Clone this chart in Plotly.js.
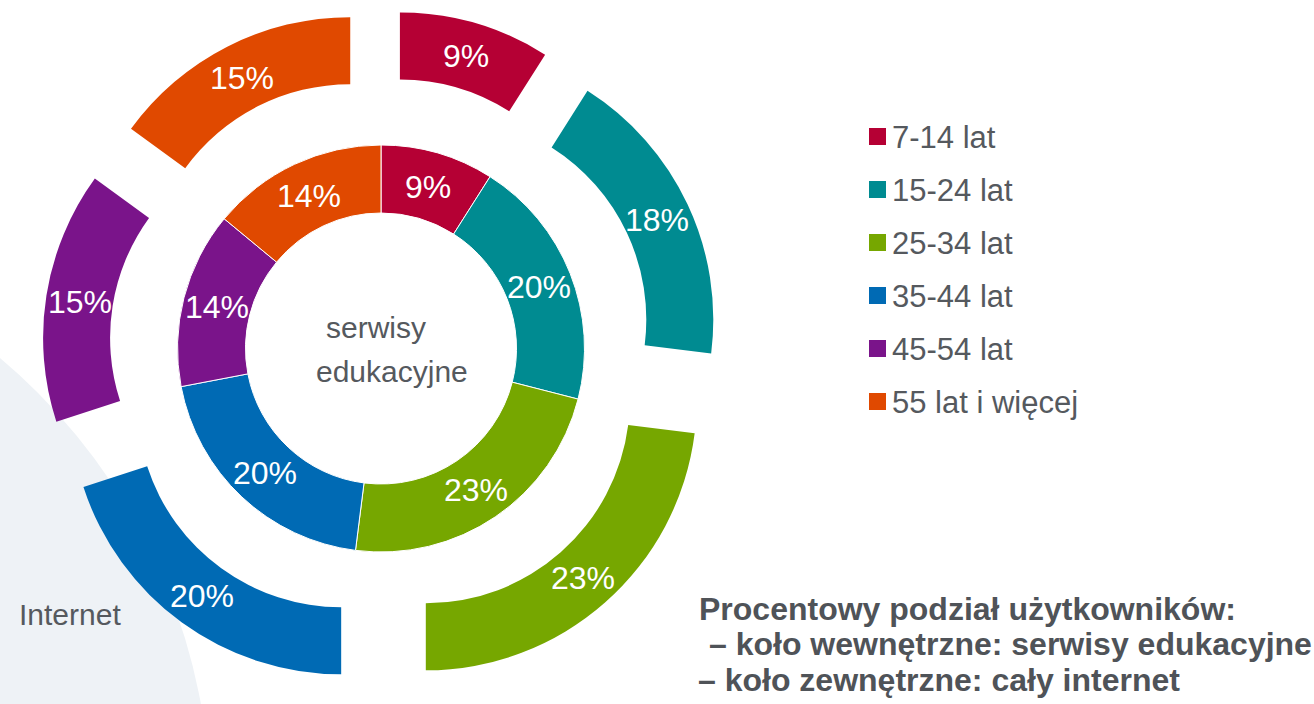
<!DOCTYPE html>
<html>
<head>
<meta charset="utf-8">
<script src="https://cdn.plot.ly/plotly-3.0.1.min.js"></script>
<style>html,body{margin:0;padding:0;background:#fff;}#chart{width:1314px;height:704px;}</style>
</head>
<body>
<div id="chart"></div>
<script>
// ---- data ----
const categories = ['7-14 lat', '15-24 lat', '25-34 lat', '35-44 lat', '45-54 lat', '55 lat i więcej'];
const innerValues = [9, 20, 23, 20, 14, 14];   // serwisy edukacyjne
const outerValues = [9, 18, 23, 20, 15, 15];   // cały internet
const colors = ['#B50034', '#008B91', '#76A700', '#006AB4', '#7A148A', '#E04900'];
const centerLines = ['serwisy', 'edukacyjne'];
const outerLabel = 'Internet';
const noteLines = ['Procentowy podział użytkowników:', '– koło wewnętrzne: serwisy edukacyjne', '– koło zewnętrzne: cały internet'];

// ---- layout helpers ----
const W = 1314, H = 704;
const px = x => x / W;
const py = y => 1 - y / H;
const FONT = 'Liberation Sans, Arial, sans-serif';
const TXT = '#55595E';

// geometry (pixels)
const cx = 381, cy = 348.5;
const rInner = 203.5, holeInner = 135.5 / 203.5;
const rOuter = 271, holeOuter = 204 / 271, pullOuter = 0.25;
const boxOuter = rOuter * (1 + pullOuter);

const outerTrace = {
  type: 'pie',
  labels: categories,
  values: outerValues,
  sort: false,
  direction: 'clockwise',
  rotation: 0,
  hole: holeOuter,
  pull: pullOuter,
  marker: { colors: colors, line: { width: 0 } },
  textinfo: 'none',
  hovertemplate: '%{label}: %{value}%<extra>Internet</extra>',
  showlegend: false,
  domain: { x: [px(cx - boxOuter), px(cx + boxOuter)], y: [py(cy + boxOuter), py(cy - boxOuter)] }
};

const innerTrace = {
  type: 'pie',
  labels: categories,
  values: innerValues,
  sort: false,
  direction: 'clockwise',
  rotation: 0,
  hole: holeInner,
  marker: { colors: colors, line: { color: '#FFFFFF', width: 1 } },
  textinfo: 'none',
  hovertemplate: '%{label}: %{value}%<extra>serwisy edukacyjne</extra>',
  showlegend: false,
  domain: { x: [px(cx - rInner), px(cx + rInner)], y: [py(cy + rInner), py(cy - rInner)] }
};

const shapes = [{
  type: 'circle', xref: 'paper', yref: 'paper', layer: 'below',
  x0: px(-380 - 590.5), x1: px(-380 + 590.5), y0: py(810 + 590.5), y1: py(810 - 590.5),
  fillcolor: '#EEF2F6', line: { width: 0 }
}];
const annotations = [];

// slice percentage labels: placed on each slice's bisector, mid-ring, derived from the values
function sliceLabels(values, r, hole, pull) {
  const total = values.reduce((a, b) => a + b, 0);
  let cum = 0;
  values.forEach(v => {
    const mid = (cum + v / 2) / total * 2 * Math.PI;
    cum += v;
    const sx = cx + pull * r * Math.sin(mid);
    const sy = cy - pull * r * Math.cos(mid);
    const rm = r * (1 + hole) / 2;
    annotations.push({
      xref: 'paper', yref: 'paper',
      x: px(sx + rm * Math.sin(mid)), y: py(sy - rm * Math.cos(mid) + 1),
      xanchor: 'center', yanchor: 'middle', showarrow: false,
      text: v + '%', font: { family: FONT, size: 32, color: '#FFFFFF' }
    });
  });
}
sliceLabels(outerValues, rOuter, holeOuter, pullOuter);
sliceLabels(innerValues, rInner, holeInner, 0);

// manual legend built from categories/colors
categories.forEach((c, i) => {
  const yc = 136.5 + 53 * i;
  shapes.push({
    type: 'rect', xref: 'paper', yref: 'paper',
    x0: px(869), x1: px(886), y0: py(yc + 8.5), y1: py(yc - 8.5),
    fillcolor: colors[i], line: { width: 0 }
  });
  annotations.push({
    xref: 'paper', yref: 'paper', x: px(890), y: py(yc + 1), xanchor: 'left', yanchor: 'middle',
    text: c, showarrow: false, font: { family: FONT, size: 31, color: TXT }
  });
});

// center text
annotations.push({ xref: 'paper', yref: 'paper', x: px(376), y: py(328), xanchor: 'center', yanchor: 'middle',
  text: centerLines[0], showarrow: false, font: { family: FONT, size: 30, color: TXT } });
annotations.push({ xref: 'paper', yref: 'paper', x: px(392), y: py(371), xanchor: 'center', yanchor: 'middle',
  text: centerLines[1], showarrow: false, font: { family: FONT, size: 30, color: TXT } });
// Internet label
annotations.push({ xref: 'paper', yref: 'paper', x: px(70), y: py(614), xanchor: 'center', yanchor: 'middle',
  text: outerLabel, showarrow: false, font: { family: FONT, size: 30, color: TXT } });
// note
const noteY = [609, 644, 680];
const noteX = [697, 707, 696];
noteLines.forEach((t, i) => {
  annotations.push({ xref: 'paper', yref: 'paper', x: px(noteX[i]), y: py(noteY[i]), xanchor: 'left', yanchor: 'middle',
    text: '<b>' + t + '</b>', showarrow: false, font: { family: FONT, size: 32, color: '#4F5358' } });
});

const layout = {
  width: W, height: H,
  margin: { l: 0, r: 0, t: 0, b: 0 },
  paper_bgcolor: '#FFFFFF',
  showlegend: false,
  shapes: shapes,
  annotations: annotations
};

Plotly.newPlot('chart', [outerTrace, innerTrace], layout, { displayModeBar: false, staticPlot: true });
</script>
</body>
</html>
